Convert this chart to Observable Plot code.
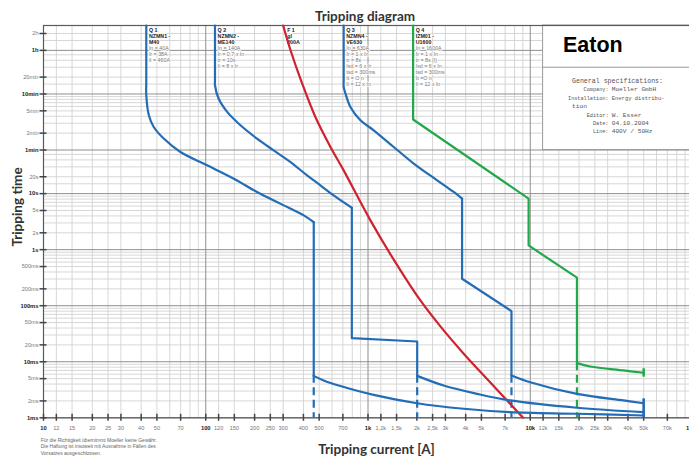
<!DOCTYPE html>
<html><head><meta charset="utf-8">
<script src="https://cdn.jsdelivr.net/npm/d3@7"></script>
<script src="https://cdn.jsdelivr.net/npm/@observablehq/plot@0.6"></script>
<style>
html,body{margin:0;padding:0;overflow:hidden;background:#fff;width:689px;height:458px}
#wrap{position:relative;width:689px;height:458px;overflow:hidden}
#wrap svg{position:absolute;left:0;top:0;max-width:none}
</style></head><body><div id="wrap"></div>
<script>
// ---------- axis ticks ----------
const xTickValues = [10,12,15,20,25,30,40,50,70,100,120,150,200,250,300,400,500,700,1000,1200,1500,2000,2500,3000,4000,5000,7000,10000,12000,15000,20000,25000,30000,40000,50000,70000,100000];
const xTickLabels = ["10","12","15","20","25","30","40","50","70","100","120","150","200","250","300","400","500","700","1k","1,2k","1,5k","2k","2,5k","3k","4k","5k","7k","10k","12k","15k","20k","25k","30k","40k","50k","70k","100k"];
const yTickValues = [0.001,0.002,0.005,0.01,0.02,0.05,0.1,0.2,0.5,1,2,5,10,20,60,120,300,600,1200,3600,7200];
const yTickLabels = ["1ms","2ms","5ms","10ms","20ms","50ms","100ms","200ms","500ms","1s","2s","5s","10s","20s","1min","2min","5min","10min","20min","1h","2h"];
const majorX = [10,100,1000,10000,100000];
const majorY = [0.001,0.01,0.1,1,10,60,600,3600];
const gridX = [12,15,20,25,30,40,50,60,70,80,90,
  120,150,200,250,300,400,500,600,700,800,900,
  1200,1500,2000,2500,3000,4000,5000,6000,7000,8000,9000,
  12000,15000,20000,25000,30000,40000,50000,60000,70000,80000,90000];
const gridY = [0.002,0.003,0.004,0.005,0.006,0.007,0.008,0.009,
  0.02,0.03,0.04,0.05,0.06,0.07,0.08,0.09,
  0.2,0.3,0.4,0.5,0.6,0.7,0.8,0.9,
  2,3,4,5,6,7,8,9,
  15,20,30,40,50,
  120,180,240,300,360,420,480,540,
  900,1200,1800,2400,3000,
  5400,7200];

// ---------- curves (current in A, time in s) ----------
// Q1 NZMN1-M40
const q1ThermalI = [43,43,43,44.6,47.8,55.1,69.8,102,149,207,288,402,463];
const q1ThermalT = [10000,1000,569,250,154.5,96,55.3,32,18.5,10.7,6.63,4.1,3.1];
const q1DropI = [463,463];
const q1DropT = [3.1,0.0056];
const q1LimitI = [463,533,676,1084,2010,3890,7536,19400,50000];
const q1LimitT = [0.0056,0.00464,0.0037,0.00257,0.00182,0.00145,0.00126,0.00118,0.0011];
// Q2 NZMN2-ME140
const q2ThermalI = [114,114,114,120,135.5,163.6,207,262,333,421,509,614,795];
const q2ThermalT = [10000,1054,859,497,287,166,96,59.3,36.6,21.2,14.1,9.3,5.6];
const q2StepI = [795,795,2010,2010];
const q2StepT = [5.6,0.0264,0.023,0.0056];
const q2LimitI = [2010,2925,4700,7536,19400,50000];
const q2LimitT = [0.0056,0.00377,0.00268,0.00204,0.00151,0.00126];
// Q3 NZMN4-VE630
const q3ThermalI = [708,708,708,726,779,898,1084,1440,1913,2668,3377,3800];
const q3ThermalT = [10000,1054,800,611,352,204,135,68,34.4,17.3,10.7,8.15];
const q3StepI = [3800,3800,7660,7660];
const q3StepT = [8.15,0.303,0.080,0.0057];
const q3LimitI = [7660,10000,19400,37600,50000];
const q3LimitT = [0.0057,0.00432,0.00268,0.00204,0.00182];
// Q4 IZM01-U1600
const q4StepI = [1897,1897,9770,9770,19400,19400];
const q4StepT = [10000,210,8.15,1.19,0.316,0.00944];
const q4LimitI = [19400,23400,37600,50000];
const q4LimitT = [0.00944,0.00824,0.0070,0.00636];
// F1 gl 200A fuse
const f1I = [300,333,393,474,587,708,1035,1476,2103,2794,3890,5420,7200,9030];
const f1T = [10000,3622,920,233,68,26,3.33,0.593,0.124,0.0427,0.0139,0.0049,0.00204,0.001];

// dashed let-through markers and end bars
const dashBlueI = [463,2010,7660];
const dashBlueTop = [0.0056,0.0056,0.0057];
const dashGreenI = [19400];
const dashGreenTop = [0.00944];
const endBlue = {i: 50000, t1: 0.001, t2: 0.00218};
const endGreen = {i: 50000, t1: 0.00531, t2: 0.0075};

// info box (in data units)
const infoBox = {x1: 12000, x2: 100000, y1: 60, y2: 10000};
const infoDivider = {y: 1800, x1: 12000, x2: 100000};

// breaker annotations
const annoX = [43,114,306,708,1897];
const annoHead = ["Q 1\nNZMN1 -\nM40","Q 2\nNZMN2 -\nME140","F 1\ngl\n200A","Q 3\nNZMN4 -\nVE630","Q 4\nIZM01 -\nU1600"];
const annoBody = ["In = 40A\nIr = 38A\nIi = 460A",
  "In = 140A\nIr = 0,7 x In\ntr = 10s\nIi = 8 x Ir",
  "",
  "In = 630A\nIr = 1 x In\ntr = 8s\nIsd = 6 x Ir\ntsd = 300ms\nIt = O n\nIi = 12 x In",
  "In = 1600A\nIr = 1 x In\ntr = 8s (I)\nIsd = 6 x In\ntsd = 300ms\nIt =O n\nIi = 12 x In"];

// texts
const title = "Tripping diagram";
const xTitle = "Tripping current [A]";
const yTitle = "Tripping time";
const footLines = ["Für die Richtigkeit übernimmt Moeller keine Gewähr.","Die Haftung ist insoweit mit Ausnahme in Fällen des","Vorsatzes ausgeschlossen."];
const brand = "Eaton";
const specHead = "General specifications:";
const specLabels = ["Company:","Installation:","","Editor:","Date:","Line:"];
const specValues = ["Moeller GmbH","Energy distribu-","tion","W. Esser","04.10.2004","400V / 50Hz"];

// ---------- build tables ----------
const BLUE = "#236db6", RED = "#d0222e", GREEN = "#20a84b";
const seg = (name, I, T) => I.map((c, k) => ({seg: name, c, t: T[k]}));
const blueSmooth = [...seg("q1t", q1ThermalI, q1ThermalT), ...seg("q1l", q1LimitI, q1LimitT),
  ...seg("q2t", q2ThermalI, q2ThermalT), ...seg("q2l", q2LimitI, q2LimitT),
  ...seg("q3t", q3ThermalI, q3ThermalT), ...seg("q3l", q3LimitI, q3LimitT)];
const blueStraight = [...seg("q1d", q1DropI, q1DropT), ...seg("q2s", q2StepI, q2StepT), ...seg("q3s", q3StepI, q3StepT)];
const greenStraight = seg("q4s", q4StepI, q4StepT);
const greenSmooth = seg("q4l", q4LimitI, q4LimitT);
const red = seg("f1", f1I, f1T);
const dashBlue = dashBlueI.map((c, k) => ({c, top: dashBlueTop[k]}));
const dashGreen = dashGreenI.map((c, k) => ({c, top: dashGreenTop[k]}));
const xTicks = xTickValues.map((v, k) => ({v, label: xTickLabels[k], major: majorX.includes(v)}));
const yTicks = yTickValues.map((v, k) => ({v, label: yTickLabels[k], major: majorY.includes(v)}));
const annos = annoX.map((x, k) => ({x, head: annoHead[k], body: annoBody[k]}));

const LW = 2.2;
const lineOpts = {x: "c", y: "t", z: "seg", strokeWidth: LW, strokeLinejoin: "round", strokeLinecap: "round"};
const SANS = "Liberation Sans, Arial, sans-serif";

const chart = Plot.plot({
  width: 695, height: 458,
  marginTop: 25, marginBottom: 40.7, marginLeft: 43, marginRight: 3,
  x: {type: "log", domain: [10, 100000], axis: null},
  y: {type: "log", domain: [0.001, 10000], axis: null},
  style: {background: "white", fontFamily: SANS, maxWidth: "none", overflow: "hidden"},
  marks: [
    Plot.ruleX(gridX, {stroke: "#d2d2d2", strokeWidth: 0.9}),
    Plot.ruleY(gridY, {stroke: "#d2d2d2", strokeWidth: 0.9}),
    Plot.ruleX(majorX, {stroke: "#8e8e8e", strokeWidth: 1}),
    Plot.ruleY(majorY, {stroke: "#8e8e8e", strokeWidth: 1}),
    Plot.rect([infoBox], {x1: "x1", x2: "x2", y1: "y1", y2: "y2", fill: "white", stroke: "#9a9a9a", strokeWidth: 1}),
    Plot.ruleY([infoDivider], {y: "y", x1: "x1", x2: "x2", stroke: "#9a9a9a", strokeWidth: 1}),
    Plot.frame({stroke: "#5a5a5a", strokeWidth: 1.2}),
    // tick marks crossing the axes
    Plot.ruleX(xTicks, {x: "v", y1: 0.001, y2: 0.001, insetTop: -3.5, insetBottom: -3.5, stroke: "#444", strokeWidth: 1.5}),
    Plot.ruleY(yTicks, {y: "v", x1: 10, x2: 10, insetLeft: -3.5, insetRight: -3.5, stroke: "#444", strokeWidth: 1.5}),
    // tick labels
    Plot.text(xTicks.filter(d => !d.major), {x: "v", y: 0.001, text: "label", dy: 10, fontSize: 5.6, fill: "#777", fontFamily: SANS}),
    Plot.text(xTicks.filter(d => d.major), {x: "v", y: 0.001, text: "label", dy: 10, fontSize: 5.8, fontWeight: "bold", fill: "#222", fontFamily: SANS}),
    Plot.text(yTicks.filter(d => !d.major), {x: 10, y: "v", text: "label", dx: -5, textAnchor: "end", fontSize: 5.6, fill: "#777", fontFamily: SANS}),
    Plot.text(yTicks.filter(d => d.major), {x: 10, y: "v", text: "label", dx: -5, textAnchor: "end", fontSize: 5.8, fontWeight: "bold", fill: "#222", fontFamily: SANS}),
    // annotations
    Plot.text(annos, {x: "x", frameAnchor: "top", text: "head", textAnchor: "start", lineAnchor: "top", dx: 2.6, dy: 2.2, fontSize: 5.3, lineHeight: 1.14, fontWeight: "bold", fill: "#222", stroke: "white", strokeWidth: 1.5, fontFamily: SANS}),
    Plot.text(annos, {x: "x", frameAnchor: "top", text: "body", textAnchor: "start", lineAnchor: "top", dx: 2.6, dy: 20.4, fontSize: 5.3, lineHeight: 1.14, fill: "#777", stroke: "white", strokeWidth: 1.5, fontFamily: SANS}),
    // dashed let-through verticals
    Plot.ruleX(dashBlue, {x: "c", y1: 0.001, y2: "top", stroke: BLUE, strokeWidth: LW, strokeDasharray: "8,4.5", strokeDashoffset: 3}),
    Plot.ruleX(dashGreen, {x: "c", y1: 0.001, y2: "top", stroke: GREEN, strokeWidth: LW, strokeDasharray: "8,4.5", strokeDashoffset: 3}),
    // curves
    Plot.line(red, {...lineOpts, stroke: RED, curve: "catmull-rom"}),
    Plot.line(greenStraight, {...lineOpts, stroke: GREEN, curve: "linear"}),
    Plot.line(greenSmooth, {...lineOpts, stroke: GREEN, curve: "catmull-rom"}),
    Plot.line(blueStraight, {...lineOpts, stroke: BLUE, curve: "linear"}),
    Plot.line(blueSmooth, {...lineOpts, stroke: BLUE, curve: "catmull-rom"}),
    // end bars at 50 kA
    Plot.ruleX([endBlue], {x: "i", y1: "t1", y2: "t2", stroke: BLUE, strokeWidth: 2.6}),
    Plot.ruleX([endGreen], {x: "i", y1: "t1", y2: "t2", stroke: GREEN, strokeWidth: 2.4})
  ]
});
document.getElementById("wrap").appendChild(chart);

// ---------- overlay texts ----------
const ov = d3.select("#wrap").append("svg").attr("width", 689).attr("height", 458).style("pointer-events", "none");
const HEAD = "Lato, 'Open Sans', sans-serif";
ov.append("text").attr("x", 365).attr("y", 21).attr("text-anchor", "middle")
  .style("font", `bold 13.5px ${HEAD}`).attr("fill", "#333").text(title);
ov.append("text").attr("x", 376.5).attr("y", 454).attr("text-anchor", "middle")
  .style("font", `bold 13.5px ${HEAD}`).attr("fill", "#333").text(xTitle);
ov.append("text").attr("transform", "translate(21.5,207) rotate(-90)").attr("text-anchor", "middle")
  .style("font", `bold 13.5px ${HEAD}`).attr("fill", "#333").text(yTitle);
footLines.forEach((s, k) => ov.append("text").attr("x", 40.7).attr("y", 441.5 + k * 6.7)
  .style("font", `5px ${SANS}`).attr("fill", "#666").text(s));
ov.append("text").attr("x", 563).attr("y", 52).style("font", `bold 21.5px ${SANS}`).attr("fill", "#000").text(brand);
const MONO = "'Liberation Mono', 'DejaVu Sans Mono', monospace";
ov.append("text").attr("x", 572).attr("y", 83).style("font", `6.6px ${MONO}`).attr("fill", "#555").text(specHead);
const specY = [91.2, 100, 108, 116.5, 124.8, 132.8];
specLabels.forEach((s, k) => {
  if (s) ov.append("text").attr("x", 608.5).attr("y", specY[k]).attr("text-anchor", "end")
    .style("font", `5.2px ${MONO}`).attr("fill", "#555").text(s);
  const vx = specLabels[k] ? 611.7 : 572;
  ov.append("text").attr("x", vx).attr("y", specY[k]).style("font", `${k === 1 ? 5.5 : 6.2}px ${MONO}`).attr("fill", "#555").text(specValues[k]);
});
</script></body></html>
